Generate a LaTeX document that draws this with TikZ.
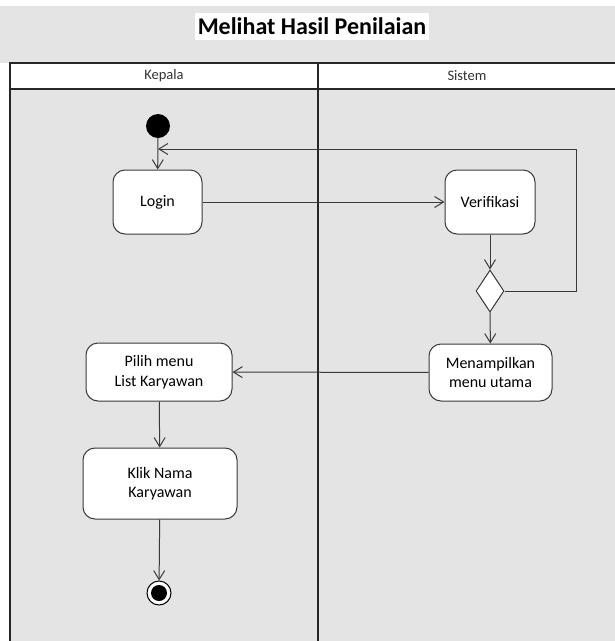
\documentclass[tikz,border=0pt]{standalone}
\usepackage{fontspec}
\setmainfont{Carlito}
\usetikzlibrary{arrows.meta,shapes.geometric}

\definecolor{canvas}{HTML}{E4E4E4}
\definecolor{ink}{HTML}{3A3A3A}

\tikzset{
  activity/.style={draw=ink, line width=1pt, fill=white, rounded corners=12pt,
    align=center, font=\fontsize{16}{19.5}\selectfont, inner sep=0pt},
  flow/.style={draw=ink, line width=1pt, -{Straight Barb[length=9pt,width=11pt,line width=1pt]}},
  lane/.style={draw=black!85, line width=1.3pt},
  lanehead/.style={font=\fontsize{14.5}{17}\selectfont, text=black!80},
}

\begin{document}
\begin{tikzpicture}[x=1pt,y=-1pt]
  \useasboundingbox (0,0) rectangle (615,641);

  % canvas and swimlane frame
  \fill[canvas] (0,6) rectangle (615,641);
  \fill[white] (0,63) rectangle (10,641);
  \fill[white] (10,63) rectangle (615,89);
  \draw[lane] (10,641) -- (10,63) -- (615,63);
  \draw[lane] (10,89) -- (615,89);
  \draw[lane] (318,63) -- (318,641);

  % title
  \node[fill=white, inner xsep=2.5pt, inner ysep=0pt, minimum height=27pt,
        font=\bfseries\fontsize{24}{28}\selectfont] (title) at (312,26) {Melihat Hasil Penilaian};

  % lane headers
  \node[lanehead] (laneA) at (164,76) {Kepala};
  \node[lanehead] (laneB) at (467,76) {Sistem};

  % activities
  \node[circle, fill=black, minimum size=24pt, inner sep=0pt] (init) at (158,126) {};
  \node[activity, minimum width=89pt, minimum height=64pt] (login) at (157.5,202) {Login};
  \node[activity, minimum width=90pt, minimum height=64pt] (verif) at (490,202) {Verifikasi};
  \node[diamond, draw=ink, line width=1pt, fill=white, minimum width=28pt,
        minimum height=42pt, inner sep=0pt] (dec) at (490,291) {};
  \node[activity, minimum width=123pt, minimum height=57pt] (menu) at (490.5,372.5) {Menampilkan\\menu utama};
  \node[activity, minimum width=146pt, minimum height=58pt] (pilih) at (159,372) {Pilih menu\\List Karyawan};
  \node[activity, minimum width=154pt, minimum height=71pt] (klik) at (160,483.5) {Klik Nama\\Karyawan};
  \node[circle, draw=black, line width=1pt, fill=white, minimum size=24pt, inner sep=0pt] (final) at (159,593) {};
  \node[circle, fill=black, minimum size=16pt, inner sep=0pt] (finaldot) at (final.center) {};

  % flows
  \coordinate (loopcorner) at (576,149);
  \draw[flow] (init) -- (login);
  \draw[flow] (login) -- (verif);
  \draw[flow] (verif) -- (dec);
  \draw[flow] (dec.east) -| (loopcorner) -- (init |- loopcorner);
  \draw[flow] (dec) -- (menu);
  \draw[flow] (menu) -- (pilih);
  \draw[flow] (pilih) -- (klik);
  \draw[flow] (klik) -- (final);
\end{tikzpicture}
\end{document}
